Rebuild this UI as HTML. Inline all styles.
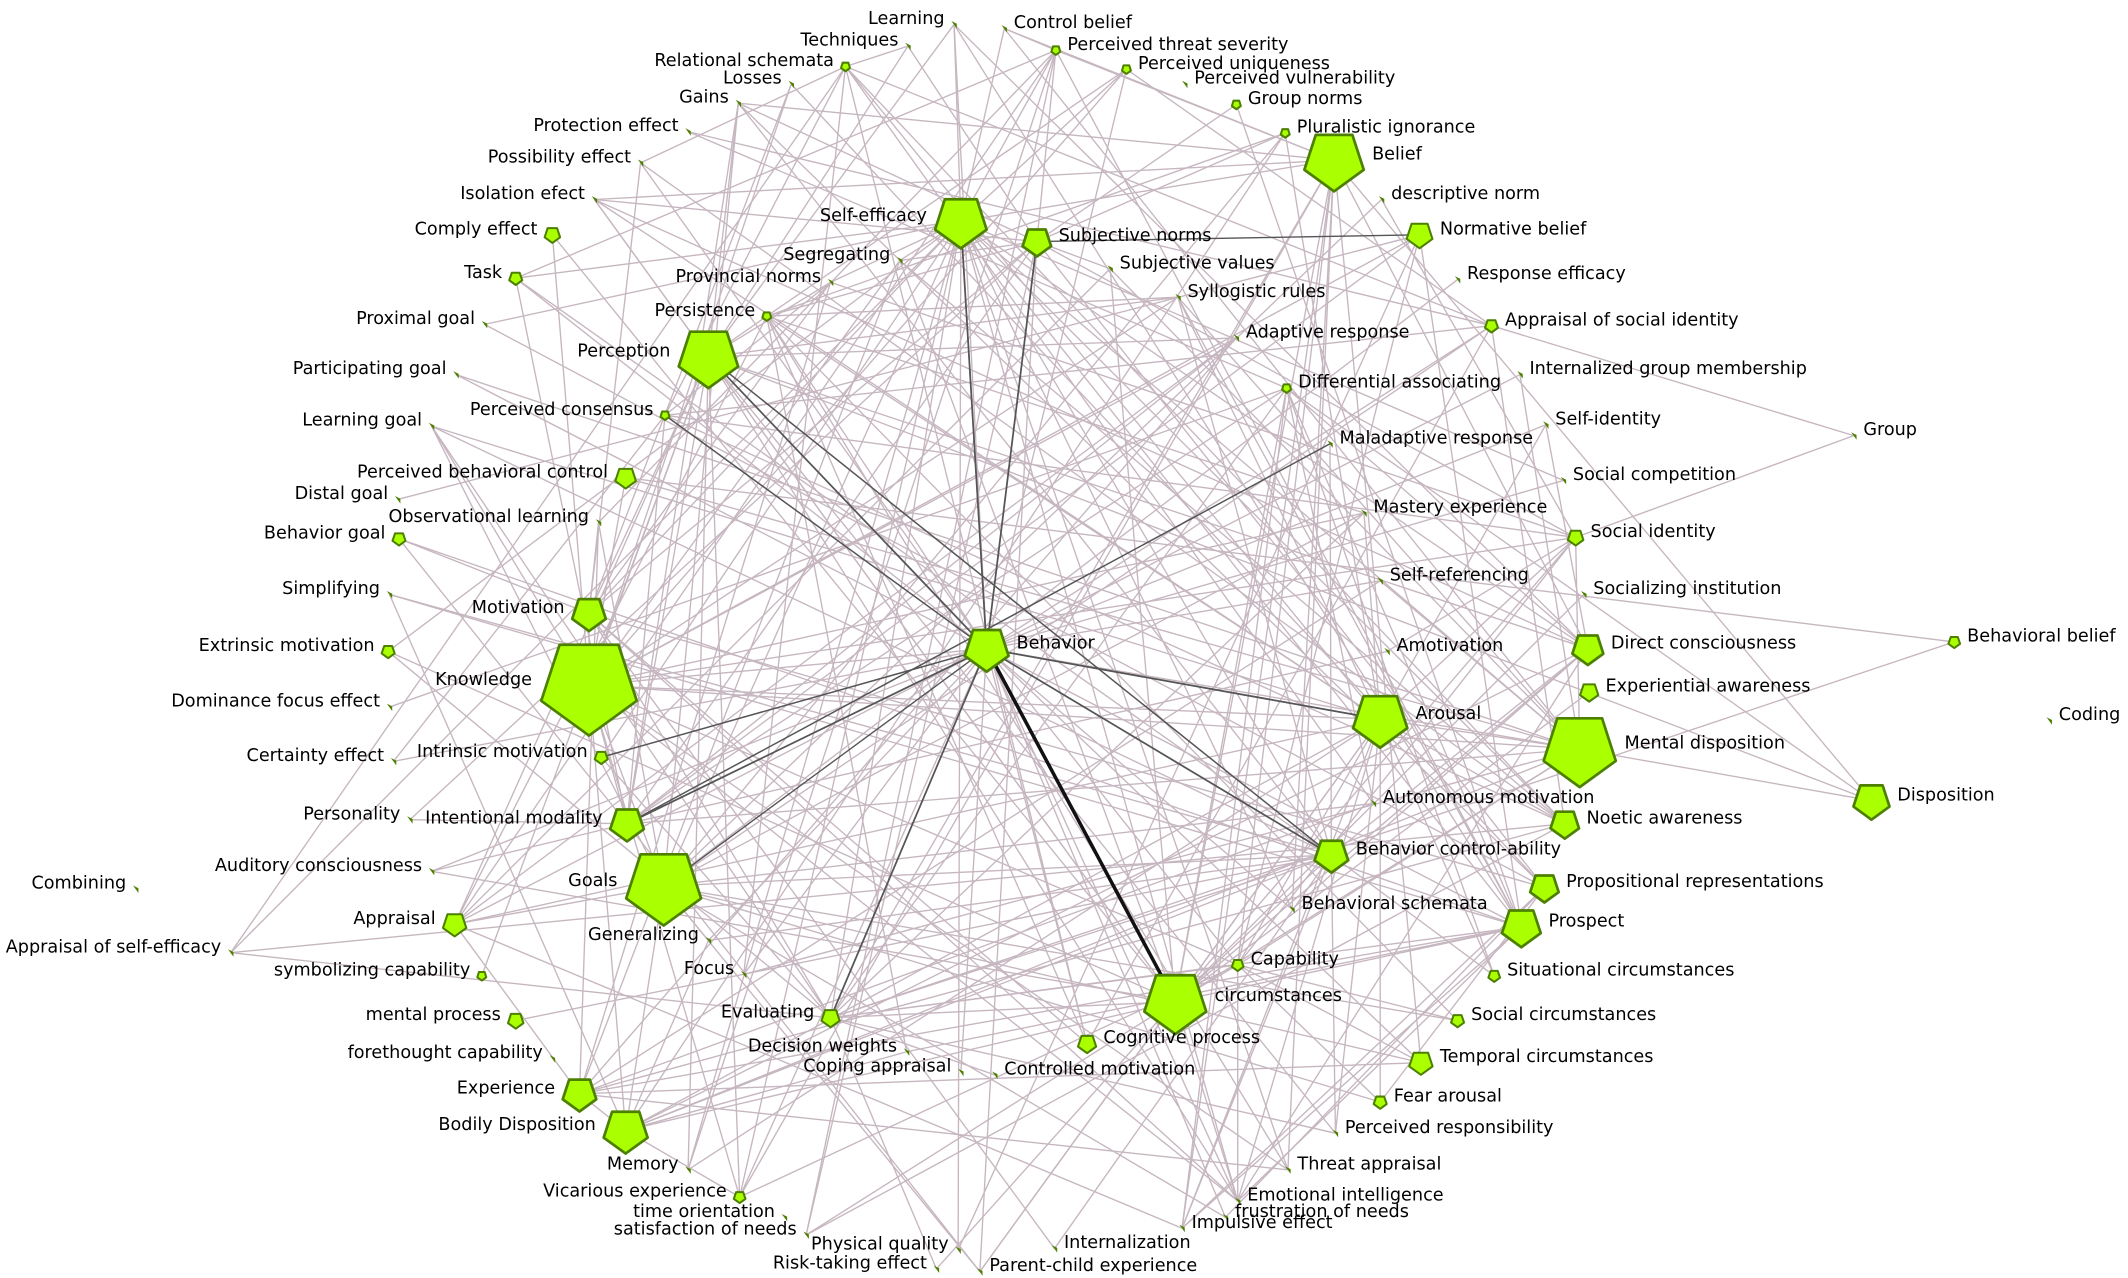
<!DOCTYPE html>
<html><head><meta charset="utf-8"><style>
html,body{margin:0;padding:0;background:#fff;}
svg{display:block;}
text{font-family:"DejaVu Sans","Liberation Sans",sans-serif;font-size:13px;fill:#000;}
</style></head><body>
<svg id="s" width="2128" height="1278" viewBox="0 0 1568 941.7" xmlns="http://www.w3.org/2000/svg">
<g id="edges"></g><g id="nodes"></g><g id="labels"></g>
</svg>
<script>
var N=[
["Learning",703,18,0,"l"],["Techniques",669,34,0,"l"],["Control belief",740,21,0,"r"],
["Perceived threat severity",778,37,3.5,"r"],["Relational schemata",623,49,3.5,"l"],
["Perceived uniqueness",830,51,3.5,"r"],["Losses",583,62,0,"l"],["Perceived vulnerability",873,62,0,"r"],
["Gains",544,76,0,"l"],["Group norms",911,77,3.5,"r"],["Protection effect",507,97,0,"l"],
["Pluralistic ignorance",947,98,3.5,"r"],["Belief",983,118,23,"r"],["Possibility effect",472,120,0,"l"],
["Isolation efect",438,147,0,"l"],["descriptive norm",1018,147,0,"r"],["Self-efficacy",708,163,20,"l"],
["Comply effect",407,173,6,"l"],["Subjective norms",764,178,11,"r"],["Normative belief",1046,173,10,"r"],
["Segregating",663,192,0,"l"],["Subjective values",818,198,0,"r"],["Task",380,205,5,"l"],
["Response efficacy",1074,206,0,"r"],["Provincial norms",612,208,0,"l"],["Syllogistic rules",868,219,0,"r"],
["Persistence",565,233,3.5,"l"],["Appraisal of social identity",1099,240,5,"r"],["Proximal goal",357,239,0,"l"],
["Adaptive response",911,249,0,"r"],["Perception",522,263,23,"l"],["Internalized group membership",1120,276,0,"r"],
["Participating goal",336,276,0,"l"],["Differential associating",948,286,3.5,"r"],["Perceived consensus",490,306,3.5,"l"],
["Group",1366,321,0,"r"],["Self-identity",1139,313,0,"r"],["Learning goal",318,314,0,"l"],
["Maladaptive response",980,327,0,"r"],["Perceived behavioral control",461,352,8,"l"],["Social competition",1152,354,0,"r"],
["Distal goal",293,368,0,"l"],["Observational learning",441,385,0,"l"],["Mastery experience",1005,378,0,"r"],
["Behavior goal",294,397,5,"l"],["Social identity",1161,396,6,"r"],["Self-referencing",1017,428,0,"r"],
["Simplifying",287,438,0,"l"],["Socializing institution",1167,438,0,"r"],["Motivation",434,452,13,"l"],
["Behavior",727,478,17,"r"],["Amotivation",1022,480,0,"r"],["Direct consciousness",1170,478,12,"r"],
["Extrinsic motivation",286,480,5,"l"],["Behavioral belief",1440,473,4.5,"r"],["Knowledge",434,505,37,"l"],
["Experiential awareness",1171,510,7,"r"],["Arousal",1017,530,21,"r"],["Coding",1510,531,0,"r"],
["Dominance focus effect",287,521,0,"l"],["Mental disposition",1164,552,28,"r"],["Intrinsic motivation",443,558,5,"l"],
["Certainty effect",290,561,0,"l"],["Autonomous motivation",1012,592,0,"r"],["Disposition",1379,590,14,"r"],
["Personality",302,604,0,"l"],["Intentional modality",462,607,13,"l"],["Noetic awareness",1153,607,11,"r"],
["Behavior control-ability",981,630,13,"r"],["Auditory consciousness",318,642,0,"l"],["Goals",489,653,29,"l"],
["Combining",100,655,0,"l"],["Propositional representations",1138,654,11,"r"],["Behavioral schemata",952,670,0,"r"],
["Appraisal",335,681,9,"l"],["Prospect",1121,683,15,"r"],["Generalizing",522,693,0,"l"],
["Appraisal of self-efficacy",170,702,0,"l"],["Capability",912,711,4.5,"r"],["Situational circumstances",1101,719,4.5,"r"],
["symbolizing capability",355,719,3.5,"l"],["Focus",548,718,0,"l"],["circumstances",866,738,24,"r"],
["Evaluating",612,750,7,"l"],["mental process",380,752,6,"l"],["Social circumstances",1074,752,5,"r"],
["Decision weights",668,775,0,"l"],["Cognitive process",801,769,7,"r"],["Temporal circumstances",1047,783,9,"r"],
["forethought capability",407,780,0,"l"],["Coping appraisal",708,790,0,"l"],["Controlled motivation",733,792,0,"r"],
["Experience",427,806,13,"l"],["Fear arousal",1017,812,5,"r"],["Bodily Disposition",461,833,17,"l"],
["Perceived responsibility",984,835,0,"r"],["Memory",507,862,0,"l"],["Threat appraisal",949,862,0,"r"],
["Vicarious experience",545,882,4.5,"l"],["Emotional intelligence",912,885,0,"r"],["time orientation",578,897,0,"l"],
["frustration of needs",903,897,0,"r"],["satisfaction of needs",594,910,0,"l"],["Impulsive effect",871,905,0,"r"],
["Physical quality",706,921,0,"l"],["Internalization",777,920,0,"r"],["Risk-taking effect",690,935,0,"l"],
["Parent-child experience",722,937,0,"r"]
];
var idx={};N.forEach(function(n,i){idx[n[0]]=i;});
var NS="http://www.w3.org/2000/svg";
function el(t,a,p){var e=document.createElementNS(NS,t);for(var k in a)e.setAttribute(k,a[k]);p.appendChild(e);return e;}
var E=document.getElementById("edges"),G=document.getElementById("nodes"),L=document.getElementById("labels");
var seed=7;function rnd(){seed=(seed*16807)%2147483647;return seed/2147483647;}
var hubs=[["Behavior",40],["Knowledge",26],["Goals",26],["Perception",22],["Self-efficacy",24],["Arousal",24],["circumstances",22],["Mental disposition",14],["Belief",14],["Subjective norms",14],["Motivation",12],["Intentional modality",12],["Prospect",12],["Evaluating",14],["Behavior control-ability",14],["Bodily Disposition",10],["Experience",10],["Direct consciousness",8],["Perceived threat severity",10],["Relational schemata",8],["Differential associating",8],["Perceived consensus",8],["Persistence",10],["Capability",8],["Noetic awareness",6],["Propositional representations",6],["Appraisal",5],["Social identity",5],["Appraisal of social identity",6],["Normative belief",6]];
var done={};
hubs.forEach(function(h){var a=idx[h[0]];for(var k=0;k<h[1];k++){var b=Math.floor(rnd()*N.length);if(b==a)continue;if(N[b][0]=="Coding"||N[b][0]=="Combining"||N[b][0]=="Group"||N[b][0]=="Behavioral belief")continue;var key=Math.min(a,b)+"_"+Math.max(a,b);if(done[key])continue;done[key]=1;el("line",{x1:N[a][1],y1:N[a][2],x2:N[b][1],y2:N[b][2],stroke:"#c6b6c0","stroke-width":1},E);}});
[["Group","Social identity"],["Behavioral belief","Perceived behavioral control"],["Behavioral belief","Evaluating"],["Disposition","Mental disposition"],["Group","Appraisal of social identity"]].forEach(function(p){var a=N[idx[p[0]]],b=N[idx[p[1]]];el("line",{x1:a[1],y1:a[2],x2:b[1],y2:b[2],stroke:"#c6b6c0","stroke-width":1},E);});
var dark=[["Behavior","Self-efficacy",1.3],["Behavior","Subjective norms",1.3],["Behavior","Perception",1.3],["Behavior","Perceived consensus",1.1],["Behavior","Arousal",1.3],["Behavior","Behavior control-ability",1.3],["Behavior","Evaluating",1.3],["Behavior","Intentional modality",1.3],["Behavior","Intrinsic motivation",1.1],["Maladaptive response","Intentional modality",1.1],["Perception","Behavior control-ability",1.1],["Behavior","circumstances",2.6],["Behavior","Goals",1.0],["Subjective norms","Normative belief",1.0]];
dark.forEach(function(d){var a=N[idx[d[0]]],b=N[idx[d[1]]];el("line",{x1:a[1],y1:a[2],x2:b[1],y2:b[2],stroke:d[2]>2?"#111":"#555","stroke-width":d[2]},E);});
N.forEach(function(n){var x=n[1],y=n[2],r=n[3];
if(r>0){var p=[];for(var k=0;k<5;k++){var a=(90+72*k)*Math.PI/180;p.push((x+r*Math.cos(a)).toFixed(1)+","+(y+r*Math.sin(a)).toFixed(1));}
el("polygon",{points:p.join(" "),fill:"#aaff00",stroke:"#4d8000","stroke-width":r>10?2:1.5,"stroke-linejoin":"round"},G);}
else{el("polygon",{points:(x-2)+","+(y-2.5)+" "+(x+2)+","+(y-0.5)+" "+(x+2)+","+(y+3),fill:"#4d8000"},G);}
var t=el("text",{y:y-4,"dominant-baseline":"central"},L);
var off=(r>0?r+5:7);
if(n[4]=="r"){t.setAttribute("x",x+off);}else{t.setAttribute("x",x-off);t.setAttribute("text-anchor","end");}
t.textContent=n[0];});
</script>
</body></html>
